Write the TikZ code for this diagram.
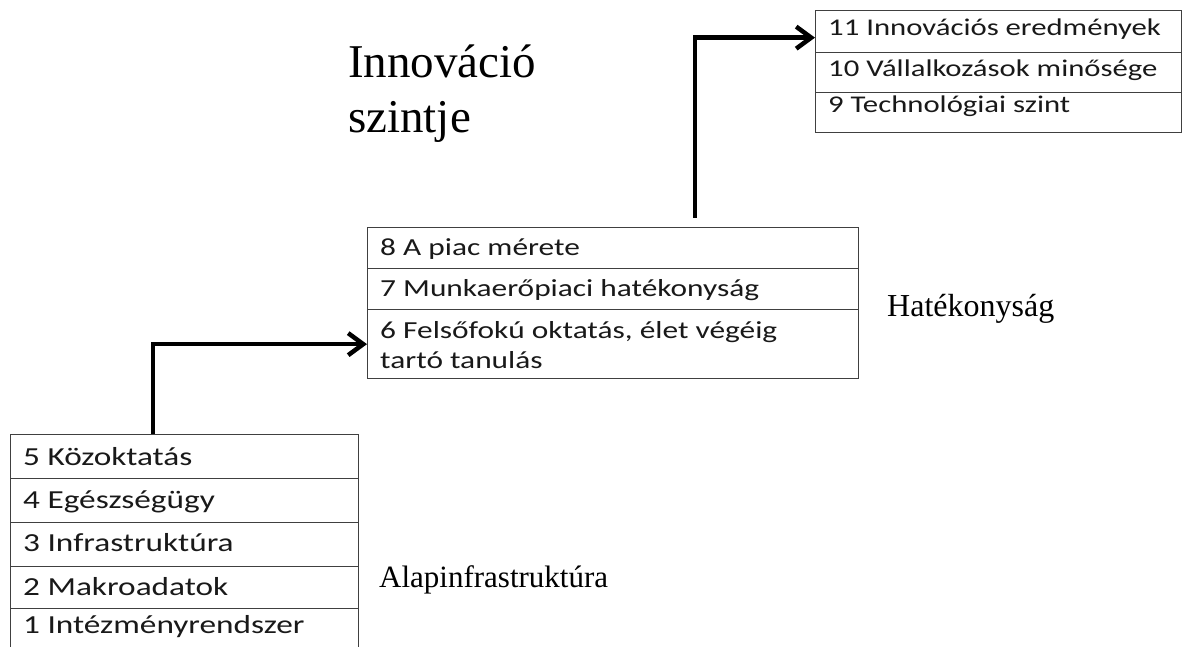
\documentclass[tikz,border=0pt]{standalone}
\usepackage{fontspec}
\setmainfont{Liberation Serif}
\newfontfamily\tabfont[FakeStretch=1.28]{Carlito}
\usetikzlibrary{arrows.meta,calc}
\begin{document}
\begin{tikzpicture}[x=1pt,y=-1pt,
  rowbox/.style={draw=black!75, line width=1.3pt, rectangle, anchor=north west, inner sep=0pt},
  botrow/.style={rowbox, minimum width=348pt},
  midrow/.style={rowbox, minimum width=491pt},
  toprow/.style={rowbox, minimum width=366pt},
  rowtext/.style={anchor=base west, inner sep=0pt, text=black!90},
  bottext/.style={rowtext, font=\tabfont\fontsize{26pt}{30pt}\selectfont},
  midtext/.style={rowtext, font=\tabfont\fontsize{24.5pt}{30pt}\selectfont},
  toptext/.style={rowtext, font=\tabfont\fontsize{24pt}{30pt}\selectfont},
  biglabel/.style={anchor=base west, inner sep=0pt},
  conn/.style={line width=4.5pt, -{Straight Barb[length=15pt,width=22pt]}}
]
\clip (0,0) rectangle (1183,647);
\fill[white] (0,0) rectangle (1183,647);

% bottom table
\node[botrow, minimum height=44pt] (r5) at (10,434) {};
\node[botrow, minimum height=44pt] (r4) at (10,478) {};
\node[botrow, minimum height=44pt] (r3) at (10,522) {};
\node[botrow, minimum height=42pt] (r2) at (10,566) {};
\node[botrow, minimum height=44pt] (r1) at (10,608) {};
\node[bottext] (t5) at ([shift={(13pt,-31pt)}]r5.north west) {5 Közoktatás};
\node[bottext] (t4) at ([shift={(13pt,-30pt)}]r4.north west) {4 Egészségügy};
\node[bottext] (t3) at ([shift={(13pt,-29pt)}]r3.north west) {3 Infrastruktúra};
\node[bottext] (t2) at ([shift={(13pt,-29pt)}]r2.north west) {2 Makroadatok};
\node[bottext] (t1) at ([shift={(13pt,-25pt)}]r1.north west) {1 Intézményrendszer};

% middle table
\node[midrow, minimum height=41pt] (r8) at (367,227) {};
\node[midrow, minimum height=41pt] (r7) at (367,268) {};
\node[midrow, minimum height=69pt] (r6) at (367,309) {};
\node[midtext] (t8) at ([shift={(13pt,-28pt)}]r8.north west) {8 A piac mérete};
\node[midtext] (t7) at ([shift={(13pt,-28pt)}]r7.north west) {7 Munkaerőpiaci hatékonyság};
\node[midtext] (t6a) at ([shift={(13pt,-29pt)}]r6.north west) {6 Felsőfokú oktatás, élet végéig};
\node[midtext] (t6b) at ([shift={(13pt,-59pt)}]r6.north west) {tartó tanulás};

% top table
\node[toprow, minimum height=42pt] (r11) at (815,10) {};
\node[toprow, minimum height=40pt] (r10) at (815,52) {};
\node[toprow, minimum height=40pt] (r9) at (815,92) {};
\node[toptext] (t11) at ([shift={(13pt,-26pt)}]r11.north west) {11 Innovációs eredmények};
\node[toptext] (t10) at ([shift={(13pt,-25pt)}]r10.north west) {10 Vállalkozások minősége};
\node[toptext] (t9) at ([shift={(13pt,-21pt)}]r9.north west) {9 Technológiai szint};

% side labels
\node[biglabel, font=\fontsize{47pt}{55pt}\selectfont] (l3a) at (348,78) {Innováció};
\node[biglabel, font=\fontsize{47pt}{55pt}\selectfont] (l3b) at (348,133) {szintje};
\node[biglabel, font=\fontsize{32pt}{38pt}\selectfont] (l2) at (887,316) {Hatékonyság};
\node[biglabel, font=\fontsize{31pt}{37pt}\selectfont] (l1) at (379,587) {Alapinfrastruktúra};

% connectors
\coordinate (s2) at (695,218);
\draw[conn] ([xshift=143pt]r5.north west) |- (r6.west);
\draw[conn] (s2) |- ([yshift=-6pt]r11.west);
\end{tikzpicture}
\end{document}
